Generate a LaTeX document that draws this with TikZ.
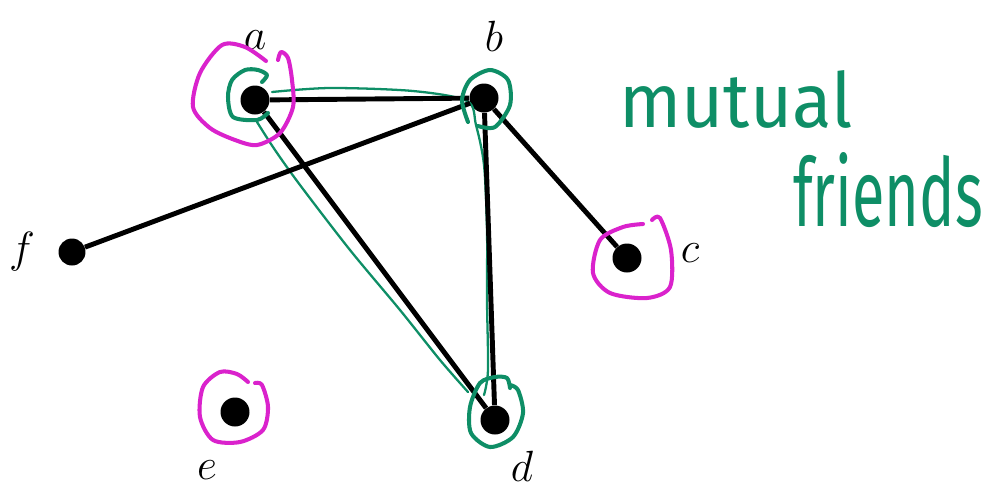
\documentclass[tikz,border=0pt]{standalone}
\usepackage{fontspec}
\newfontfamily\handfont{Fira Sans}
\definecolor{mag}{RGB}{218,34,204}
\definecolor{grn}{RGB}{14,142,102}
\begin{document}
\begin{tikzpicture}[x=0.02cm,y=-0.02cm,
  vtx/.style={circle,fill=black,inner sep=0pt,minimum size=0.58cm},
  edge/.style={line width=2.8pt,black},
  magline/.style={mag,line width=2.3pt,line cap=round,line join=round},
  grnline/.style={grn,line width=2.3pt,line cap=round,line join=round},
  thingrn/.style={grn,line width=1.3pt,line cap=round},
  lbl/.style={font=\fontsize{28}{32}\selectfont}]
\useasboundingbox (0,0) rectangle (990,491);
% vertices
\node[vtx] (a) at (255,100) {};
\node[vtx] (b) at (484,98) {};
\node[vtx] (c) at (627,258) {};
\node[vtx] (d) at (495,420) {};
\node[vtx] (e) at (235,412) {};
\node[vtx,minimum size=0.54cm] (f) at (72,252) {};
% green mutual-friends loop (behind edges)
\draw[thingrn] plot[smooth] coordinates {(272,92) (330,88) (413,91) (467,101) (476,125) (484,165) (487,230) (487,300) (488,370) (484,395)};
\draw[thingrn] plot[smooth] coordinates {(257,122) (275,150) (300,185) (350,250) (400,310) (440,360) (468,392)};
% edges
\draw[edge] (a) -- (b);
\draw[edge] (a) -- (d);
\draw[edge] (b) -- (d);
\draw[edge] (b) -- (c);
\draw[edge] (b) -- (f);
% labels
\node[lbl] (la) at (255,40) {$a$};
\node[lbl] (lb) at (494,36) {$b$};
\node[lbl] (lc) at (690,253) {$c$};
\node[lbl] (ld) at (522,466) {$d$};
\node[lbl] (le) at (207,470) {$e$};
\node[lbl] (lf) at (22,252) {$f$};
% magenta circles
\draw[magline] plot[smooth] coordinates {(266,61) (245,47) (222,45) (200,73) (193,107) (210,128) (235,140) (257,145) (280,133) (293,107) (292,80) (288,58) (281,52) (278,60)};
\draw[magline] plot[smooth] coordinates {(643,224) (623,227) (600,240) (593,273) (610,293) (647,298) (670,287) (671,250) (660,218) (652,220)};
\draw[magline] plot[smooth] coordinates {(248,382) (237,374) (220,372) (203,387) (200,417) (213,440) (240,442) (263,430) (268,407) (262,385) (255,383)};
% green circles
\draw[grnline] plot[smooth] coordinates {(262,82) (267,75) (258,70) (245,70) (232,80) (228,97) (233,117) (257,120) (268,113)};
\draw[grnline] plot[smooth] coordinates {(468,122) (462,100) (470,80) (490,70) (508,80) (510,105) (495,127) (478,126)};
\draw[grnline] plot[smooth] coordinates {(510,388) (507,378) (495,377) (480,383) (470,407) (471,433) (490,447) (513,437) (523,413) (518,390) (510,385)};
% text
\node[grn,inner sep=0pt] (m1) at (736,99) {\resizebox{4.66cm}{1.14cm}{\handfont mutual}};
\node[grn,inner sep=0pt] (m2) at (888,190) {\resizebox{3.8cm}{1.48cm}{\handfont friends}};
\end{tikzpicture}
\end{document}
